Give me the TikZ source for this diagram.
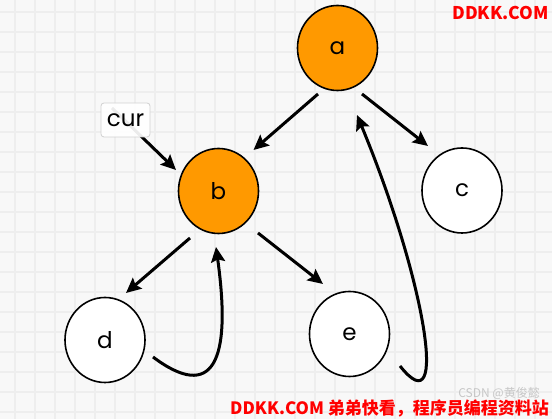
\documentclass[tikz,border=0pt]{standalone}
\usepackage{fontspec}
\usepackage{tikz}
\usetikzlibrary{positioning, shapes.geometric, arrows.meta, backgrounds}

\newfontfamily\lblfont{Poppins}
\newfontfamily\cjk{Noto Sans CJK SC}

\definecolor{paper}{HTML}{F8F8F8}
\definecolor{gridline}{HTML}{EEEEEE}
\definecolor{hot}{HTML}{FF9900}
\definecolor{mark}{HTML}{FF0000}

\tikzset{
    vert/.style={ellipse, draw, line width=1.6pt, minimum width=80pt, minimum height=85pt,
        inner sep=0pt, fill=white, font=\lblfont\fontsize{23}{25}\selectfont},
    visited/.style={vert, fill=hot},
    arr/.style={-{Stealth[length=15pt, width=14pt, inset=2.5pt]}, line width=3pt},
}

\begin{document}
\begin{tikzpicture}[x=1pt, y=1pt]
        \useasboundingbox (0,0) rectangle (552,419);

        \node (a) [visited] at (337.5,371) {a};
        \node (b) [visited, on grid, below left=143pt and 119pt of a] {b};
        \node (c) [vert, on grid, below right=142.5pt and 124.5pt of a] {c};
        \node (d) [vert, on grid, below left=149pt and 113.5pt of b] {d};
        \node (e) [vert, on grid, below right=143pt and 131pt of b] {e};
        \node (cur) [on grid, above left=71pt and 93pt of b, draw=black!18, line width=0.8pt,
            rounded corners=3pt, fill=white, fill opacity=0.92, text opacity=1,
            minimum width=49pt, minimum height=34pt, inner sep=0pt,
            font=\lblfont\fontsize{23}{25}\selectfont] {cur};

        \begin{scope}[on background layer]
            \fill [paper] (0,0) rectangle (552,419);
            \foreach \gx in {15,35,...,535}
                \draw [gridline, line width=1.3pt] (\gx,0) -- (\gx,419);
            \foreach \gy in {7,27,...,407}
                \draw [gridline, line width=1.3pt] (0,\gy) -- (552,\gy);
            \draw [arr] ([shift={(-13.5,12)}]cur.center) -- ([shift={(-42.5,21)}]b.center);
        \end{scope}

        \draw [arr] ([shift={(-19.5,-46)}]a.center) -- ([shift={(35,41)}]b.center);
        \draw [arr] ([shift={(24.5,-46)}]a.center) -- ([shift={(-34,44.5)}]c.center);
        \draw [arr] ([shift={(-28.5,-47)}]b.center) -- ([shift={(21,47)}]d.center);
        \draw [arr] ([shift={(39.5,-42)}]b.center) -- ([shift={(-26.5,50)}]e.center);
        % back edges
        \draw [arr] ([shift={(48,-17)}]d.center) .. controls +(60,-45) and +(16,-115)
            .. ([shift={(-2.5,-56)}]b.center);
        \draw [arr] ([shift={(50.5,-32)}]e.center) .. controls +(50,-63) and +(68,-164)
            .. ([shift={(19.5,-67)}]a.center);

        \node (csdn) [anchor=base east, inner sep=0pt, text=black!22,
            font=\cjk\fontsize{12}{14}\selectfont] at (540,21) {CSDN @黄俊懿};
        \node (wm) [anchor=base east, inner sep=0pt, text=mark,
            font=\cjk\bfseries\fontsize{17.5}{20}\selectfont] at (549,399) {DDKK.COM};
        \node (site) [anchor=base east, inner sep=0pt, text=mark,
            font=\cjk\bfseries\fontsize{17}{20}\selectfont] at (549,4) {DDKK.COM 弟弟快看，程序员编程资料站};
    \end{tikzpicture}
\end{document}
